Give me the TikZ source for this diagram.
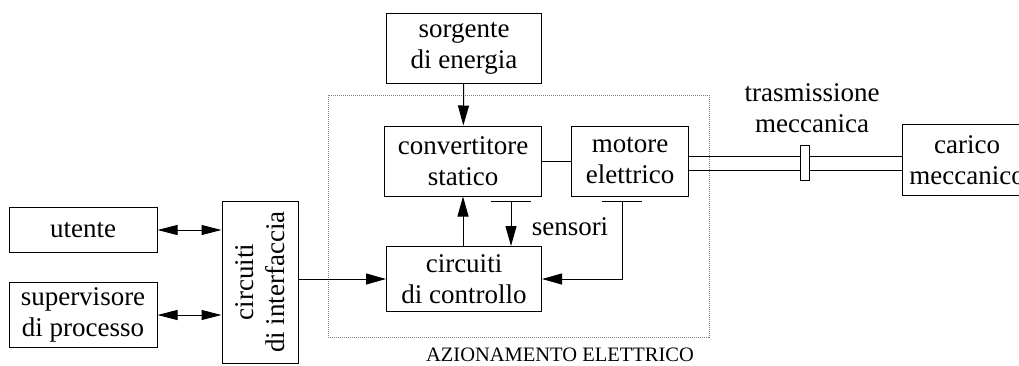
\documentclass[tikz,border=0pt]{standalone}
\usepackage{fontspec}
\setmainfont{Liberation Serif}
\usepackage{tikz}
\usetikzlibrary{calc, arrows.meta, positioning}

\begin{document}
\begin{tikzpicture}[x=1pt, y=-1pt, line width=1pt,
		blocco/.style={draw, align=center, inner sep=0pt, font=\fontsize{27}{31}\selectfont},
		testo/.style={align=center, inner sep=0pt, font=\fontsize{27}{31}\selectfont},
		freccia/.style={-{Triangle[length=20pt, width=11pt]}},
		doppia/.style={{Triangle[length=20pt, width=10pt]}-{Triangle[length=20pt, width=10pt]}}]
		\useasboundingbox (0, 0) rectangle (1019, 365);
		% azionamento
		\draw[gray, line width=0.6pt, dash pattern=on 1pt off 1pt] (328, 95) rectangle (709, 337);
		\node[inner sep=0pt] (titolo) at (560, 355) {\fontsize{20.5}{23}\selectfont AZIONAMENTO ELETTRICO};
		\node[blocco, minimum width=155, minimum height=70] (sorgente) at (464, 48) {sorgente\\di energia};
		\node[blocco, minimum width=157, minimum height=70] (convertitore) at (463, 161) {convertitore\\statico};
		\node[blocco, minimum width=117, minimum height=70] (motore) at (630, 161) {motore\\elettrico};
		\node[blocco, minimum width=155, minimum height=65] (controllo) at (464, 279) {circuiti\\di controllo};
		\node[testo] (sensori) at (570, 227) {sensori};
		% lato utente
		\node[blocco, minimum width=148, minimum height=45] (utente) at (83, 230) {utente};
		\node[blocco, minimum width=148, minimum height=65] (supervisore) at (83, 315) {supervisore\\di processo};
		\node[blocco, minimum width=76, minimum height=162] (interfaccia) at (260, 282) {};
		\node[testo, rotate=90] at (interfaccia.center) {circuiti\\di interfaccia};
		% carico
		\node[blocco, minimum width=130, minimum height=71] (carico) at (967, 160) {carico\\meccanico};
		\node[testo] (trasmissione) at (812, 108) {trasmissione\\meccanica};
		% collegamenti
		\draw[freccia] (sorgente) -- (convertitore);
		\draw (convertitore) -- (motore);
		\draw[freccia] (controllo.north -| convertitore) -- (convertitore);
		\coordinate (s1) at (511, 201);
		\coordinate (s2) at (622, 201);
		\draw ([xshift=-20pt]s1) -- ([xshift=20pt]s1);
		\draw ([xshift=-20pt]s2) -- ([xshift=20pt]s2);
		\draw[freccia] (s1) -- (s1 |- controllo.north);
		\draw[freccia] (s2) |- (controllo.east);
		\draw[freccia] (interfaccia.east |- controllo.west) -- (controllo.west);
		\draw[doppia] (utente.east) -- (interfaccia.west |- utente.east);
		\draw[doppia] (supervisore.east) -- (interfaccia.west |- supervisore.east);
		% albero
		\draw (motore.east |- 0, 156) -- (carico.west |- 0, 156);
		\draw (motore.east |- 0, 170) -- (carico.west |- 0, 170);
		\node[draw, fill=white, minimum width=9, minimum height=35, inner sep=0pt] (giunto) at (805, 163) {};
	\end{tikzpicture}
\end{document}
